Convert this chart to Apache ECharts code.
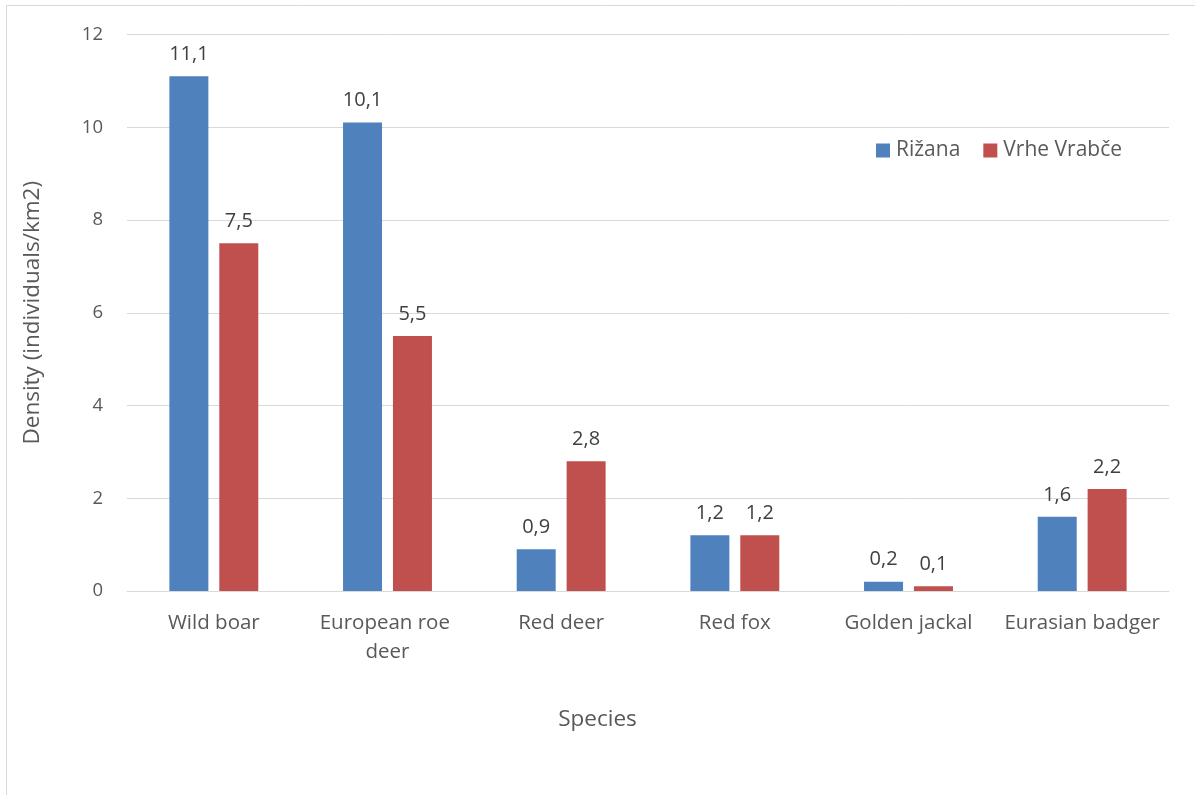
<!DOCTYPE html>
<html>
<head>
<meta charset="utf-8">
<script src="https://cdn.jsdelivr.net/npm/echarts@6/dist/echarts.min.js"></script>
<style>
  html, body { margin: 0; padding: 0; background: #fff; }
  #chart { width: 1195px; height: 795px; }
</style>
</head>
<body>
<div id="chart"></div>
<script>
// Species along the x axis
const categories = ['Wild boar', 'European roe deer', 'Red deer', 'Red fox', 'Golden jackal', 'Eurasian badger'];
// Density (individuals/km2) per site
const rizana = [11.1, 10.1, 0.9, 1.2, 0.2, 1.6];
const vrheVrabce = [7.5, 5.5, 2.8, 1.2, 0.1, 2.2];
const seriesNames = ['Rižana', 'Vrhe Vrabče'];
const yTicks = { min: 0, max: 12, interval: 2 };

const FONT = '"Open Sans", "Noto Sans", sans-serif';
const TEXT = '#595959';
const GRID = '#d9d9d9';

const chart = echarts.init(document.getElementById('chart'), null, { renderer: 'canvas' });

const labelFmt = p => String(p.value).replace('.', ',');

chart.setOption({
  animation: false,
  backgroundColor: '#fff',
  textStyle: { fontFamily: FONT },
  // x-axis title sits centred on the whole chart area
  title: {
    text: 'Species',
    left: 'center',
    top: 703,
    textStyle: { color: TEXT, fontSize: 22.5, fontWeight: 'normal', fontFamily: FONT }
  },
  graphic: [{
    type: 'rect',
    shape: { x: 6.5, y: 5.5, width: 1300, height: 900 },
    style: { fill: 'none', stroke: '#d9d9d9', lineWidth: 1 },
    silent: true
  }],
  legend: {
    data: seriesNames,
    left: 876,
    top: 140,
    padding: 0,
    itemWidth: 14,
    itemHeight: 14,
    itemGap: 23,
    icon: 'rect',
    textStyle: { color: TEXT, fontSize: 21, fontFamily: FONT, padding: [0, 0, 0, 1] }
  },
  grid: { left: 127, right: 26, top: 34.5, bottom: 204, containLabel: false },
  xAxis: {
    type: 'category',
    data: categories,
    axisLine: { lineStyle: { color: GRID, width: 1 } },
    axisTick: { show: false },
    axisLabel: {
      interval: 0,
      color: TEXT,
      fontSize: 20.5,
      fontFamily: FONT,
      margin: 18,
      width: 160,
      overflow: 'break',
      lineHeight: 29
    }
  },
  yAxis: {
    type: 'value',
    min: yTicks.min,
    max: yTicks.max,
    interval: yTicks.interval,
    name: 'Density (individuals/km2)',
    nameLocation: 'middle',
    nameGap: 83,
    nameTextStyle: { color: TEXT, fontSize: 22.5, fontFamily: FONT },
    axisLine: { show: false },
    axisTick: { show: false },
    splitLine: { lineStyle: { color: GRID, width: 1 } },
    axisLabel: { color: TEXT, fontSize: 18.5, fontFamily: FONT, margin: 24 }
  },
  series: [
    {
      name: seriesNames[0],
      type: 'bar',
      data: rizana,
      barWidth: 39,
      barGap: '28%',
      itemStyle: { color: '#4F81BD' },
      label: { show: true, position: 'top', distance: 12, color: '#404040', fontSize: 20, fontFamily: FONT, formatter: labelFmt }
    },
    {
      name: seriesNames[1],
      type: 'bar',
      data: vrheVrabce,
      barWidth: 39,
      itemStyle: { color: '#C0504D' },
      label: { show: true, position: 'top', distance: 12, color: '#404040', fontSize: 20, fontFamily: FONT, formatter: labelFmt }
    }
  ]
});
</script>
</body>
</html>
